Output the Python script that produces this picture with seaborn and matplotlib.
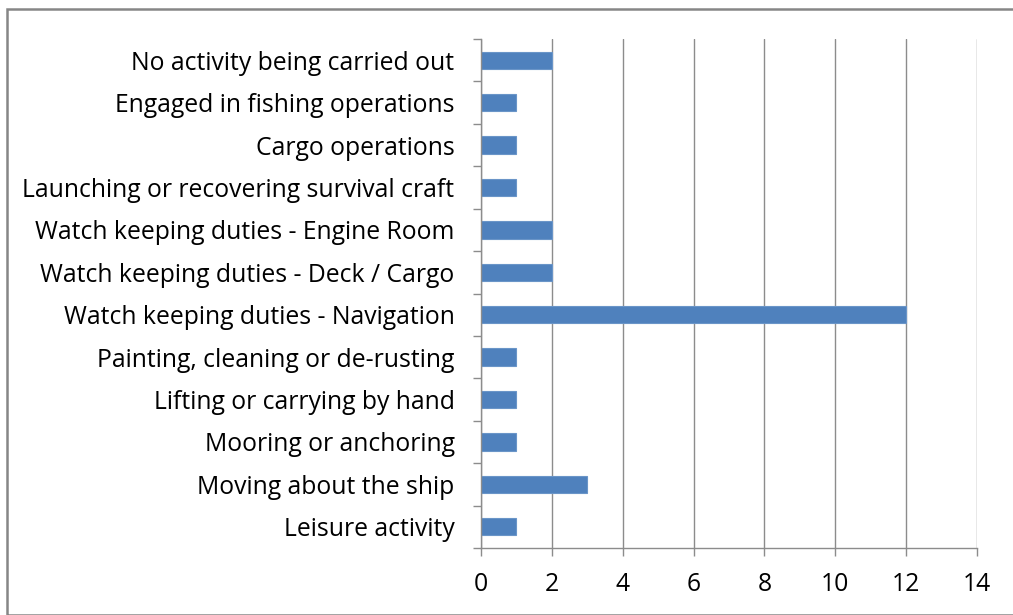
import matplotlib
matplotlib.use("Agg")
import matplotlib.pyplot as plt
import seaborn as sns
import pandas as pd
from matplotlib.patches import Rectangle

# activity at time of accident - counts
activities = [
    "No activity being carried out",
    "Engaged in fishing operations",
    "Cargo operations",
    "Launching or recovering survival craft",
    "Watch keeping duties - Engine Room",
    "Watch keeping duties - Deck / Cargo",
    "Watch keeping duties - Navigation",
    "Painting, cleaning or de-rusting",
    "Lifting or carrying by hand",
    "Mooring or anchoring",
    "Moving about the ship",
    "Leisure activity",
]
counts = [2, 1, 1, 1, 2, 2, 12, 1, 1, 1, 3, 1]
xticks = [0, 2, 4, 6, 8, 10, 12, 14]

df = pd.DataFrame({"activity": activities, "count": counts})

sns.set_style("white")
plt.rcParams["font.family"] = ["Open Sans", "DejaVu Sans"]

fig = plt.figure(figsize=(10.13, 6.15), dpi=100)
ax = fig.add_axes([481 / 1013, 1 - 548 / 615, (977 - 481) / 1013, (548 - 39) / 615])

sns.barplot(data=df, y="activity", x="count", orient="h", color="#4F81BD",
            saturation=1, width=0.41, edgecolor="#6A95C8", linewidth=0.8, ax=ax)

ax.set_xlim(0, 14)
ax.set_ylim(len(activities) - 0.5, -0.5)
ax.set_xticks(xticks)
ax.set_xticklabels([str(t) for t in xticks])
ax.set_xlabel("")
ax.set_ylabel("")

# vertical gridlines like the Excel original
ax.grid(axis="x", color="#8C8C8C", linewidth=1.0)
ax.grid(axis="y", visible=False)
ax.set_axisbelow(True)

for s in ["top", "right"]:
    ax.spines[s].set_visible(False)
for s in ["left", "bottom"]:
    ax.spines[s].set_color("#8C8C8C")
    ax.spines[s].set_linewidth(1.0)

# y ticks sit between categories
ax.set_yticks(range(len(activities)))
ax.set_yticklabels(activities)
ax.set_yticks([i - 0.5 for i in range(len(activities) + 1)], minor=True)
ax.tick_params(axis="y", which="major", length=0, pad=19, labelsize=17.8, colors="black")
ax.tick_params(axis="y", which="minor", length=6, width=1, color="#8C8C8C", left=True)
ax.tick_params(axis="x", length=6, width=1, color="#8C8C8C", pad=11, labelsize=17.8,
               bottom=True)
for lab in ax.get_xticklabels():
    lab.set_color("black")

# outer chart border
fig.patches.append(Rectangle((7 / 1013, 0), 1.2, 1 - 9 / 615, transform=fig.transFigure,
                             fill=False, edgecolor="#868686", linewidth=1.8))

fig.savefig("out.png", dpi=100, facecolor="white")
